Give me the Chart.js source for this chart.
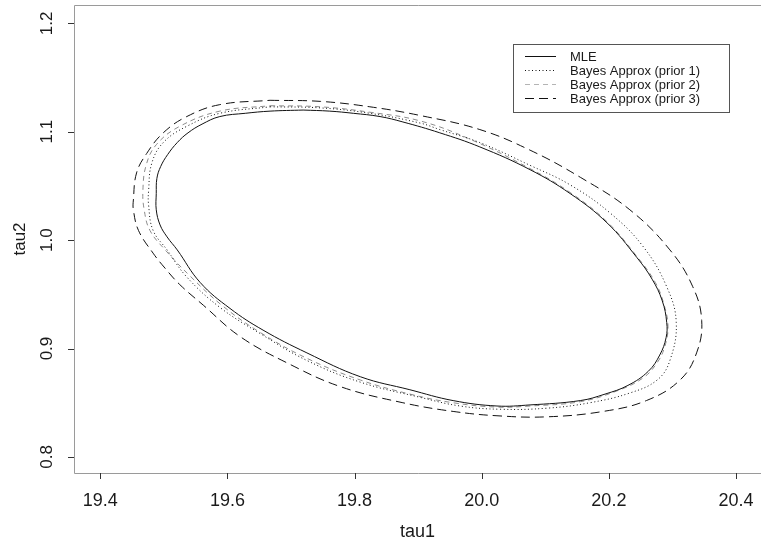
<!DOCTYPE html>
<html>
<head>
<meta charset="utf-8">
<script src="https://cdn.jsdelivr.net/npm/chart.js@4.4.0/dist/chart.umd.min.js"></script>
<style>
html, body { margin: 0; padding: 0; background: #fff; overflow: hidden; }
</style>
</head>
<body>
<canvas id="contour_view" width="761" height="546"></canvas>
<script>
// contour points, going round each curve from the top
const mle_tau1 = [19.719, 19.761, 19.798, 19.840, 19.876, 19.934, 19.997, 20.076, 20.139, 20.197, 20.244, 20.268, 20.284, 20.291, 20.290, 20.280, 20.262, 20.230, 20.194, 20.155, 20.076, 20.024, 19.955, 19.887, 19.809, 19.725, 19.656, 19.604, 19.557, 19.521, 19.505, 19.494, 19.488, 19.488, 19.489, 19.495, 19.506, 19.521, 19.538, 19.560, 19.588, 19.628, 19.667, 19.719];
const mle_tau2 = [1.120, 1.119, 1.117, 1.114, 1.109, 1.099, 1.086, 1.065, 1.043, 1.016, 0.984, 0.964, 0.944, 0.924, 0.910, 0.894, 0.879, 0.866, 0.858, 0.852, 0.848, 0.847, 0.852, 0.862, 0.874, 0.896, 0.917, 0.937, 0.961, 0.991, 1.003, 1.014, 1.028, 1.043, 1.057, 1.068, 1.079, 1.090, 1.099, 1.107, 1.114, 1.117, 1.119, 1.120];

const prior1_tau1 = [19.667, 19.746, 19.824, 19.903, 19.934, 19.997, 20.076, 20.139, 20.202, 20.254, 20.291, 20.306, 20.296, 20.276, 20.233, 20.170, 20.103, 20.029, 19.966, 19.903, 19.809, 19.725, 19.651, 19.588, 19.536, 19.505, 19.483, 19.476, 19.476, 19.481, 19.499, 19.536, 19.588, 19.667];
const prior1_tau2 = [1.123, 1.122, 1.117, 1.108, 1.102, 1.090, 1.069, 1.051, 1.025, 0.994, 0.957, 0.924, 0.889, 0.871, 0.859, 0.850, 0.845, 0.844, 0.847, 0.855, 0.869, 0.889, 0.914, 0.938, 0.966, 0.991, 1.009, 1.032, 1.046, 1.071, 1.090, 1.105, 1.117, 1.123];

const prior2_tau1 = [19.667, 19.746, 19.824, 19.903, 19.982, 20.076, 20.139, 20.197, 20.244, 20.273, 20.287, 20.293, 20.288, 20.276, 20.254, 20.213, 20.155, 20.076, 20.024, 19.955, 19.887, 19.809, 19.725, 19.651, 19.591, 19.541, 19.502, 19.478, 19.469, 19.467, 19.472, 19.488, 19.525, 19.588, 19.667];
const prior2_tau2 = [1.124, 1.123, 1.118, 1.110, 1.093, 1.066, 1.044, 1.017, 0.985, 0.961, 0.940, 0.920, 0.902, 0.887, 0.873, 0.861, 0.851, 0.847, 0.846, 0.850, 0.858, 0.871, 0.891, 0.915, 0.940, 0.967, 0.991, 1.009, 1.028, 1.046, 1.069, 1.088, 1.105, 1.119, 1.124];

const prior3_tau1 = [19.667, 19.746, 19.824, 19.903, 19.997, 20.076, 20.155, 20.233, 20.296, 20.332, 20.346, 20.338, 20.312, 20.259, 20.191, 20.102, 20.024, 19.955, 19.876, 19.777, 19.693, 19.620, 19.562, 19.525, 19.502, 19.483, 19.460, 19.452, 19.452, 19.457, 19.473, 19.499, 19.536, 19.588, 19.667];
const prior3_tau2 = [1.129, 1.128, 1.123, 1.115, 1.102, 1.083, 1.058, 1.028, 0.991, 0.957, 0.926, 0.896, 0.871, 0.852, 0.842, 0.837, 0.838, 0.842, 0.850, 0.865, 0.887, 0.911, 0.940, 0.959, 0.974, 0.988, 1.009, 1.028, 1.037, 1.062, 1.080, 1.099, 1.114, 1.125, 1.129];

const series_names = ['MLE', 'Bayes Approx (prior 1)', 'Bayes Approx (prior 2)', 'Bayes Approx (prior 3)'];

const x_ticks = [19.4, 19.6, 19.8, 20.0, 20.2, 20.4];
const x_tick_labels = ['19.4', '19.6', '19.8', '20.0', '20.2', '20.4'];
const y_ticks = [0.8, 0.9, 1.0, 1.1, 1.2];
const y_tick_labels = ['0.8', '0.9', '1.0', '1.1', '1.2'];

const x_title = 'tau1';
const y_title = 'tau2';

const font_family = '"Liberation Sans", Arial, Helvetica, sans-serif';

function to_points(xs, ys) {
    return xs.map((x, i) => ({ x: x, y: ys[i] }));
}

// R style box, ticks, rotated y labels and the legend
const axes_plugin = {
    id: 'axes_plugin',
    afterDraw(chart) {
        const ctx = chart.ctx;
        const area = chart.chartArea;
        const sx = chart.scales.x;
        const sy = chart.scales.y;

        ctx.save();

        // frame (right side falls outside the picture)
        ctx.strokeStyle = '#9a9a9a';
        ctx.lineWidth = 1;
        ctx.beginPath();
        ctx.moveTo(area.right + 2, Math.round(area.top) + 0.5);
        ctx.lineTo(Math.round(area.left) + 0.5, Math.round(area.top) + 0.5);
        ctx.lineTo(Math.round(area.left) + 0.5, Math.round(area.bottom) + 0.5);
        ctx.lineTo(area.right + 2, Math.round(area.bottom) + 0.5);
        ctx.stroke();

        // tick marks
        ctx.strokeStyle = '#333';
        ctx.beginPath();
        x_ticks.forEach(v => {
            const px = Math.round(sx.getPixelForValue(v)) + 0.5;
            ctx.moveTo(px, area.bottom);
            ctx.lineTo(px, area.bottom + 6);
        });
        y_ticks.forEach(v => {
            const py = Math.round(sy.getPixelForValue(v)) + 0.5;
            ctx.moveTo(area.left, py);
            ctx.lineTo(area.left - 6, py);
        });
        ctx.stroke();

        // tick labels
        ctx.fillStyle = '#1a1a1a';
        ctx.textAlign = 'center';
        ctx.textBaseline = 'middle';
        ctx.font = `18px ${font_family}`;
        x_ticks.forEach((v, i) => {
            ctx.fillText(x_tick_labels[i], sx.getPixelForValue(v), area.bottom + 28);
        });
        ctx.fillText(x_title, (area.left + area.right) / 2, area.bottom + 59);

        ctx.font = `17px ${font_family}`;
        y_ticks.forEach((v, i) => {
            ctx.save();
            ctx.translate(area.left - 27, sy.getPixelForValue(v));
            ctx.rotate(-Math.PI / 2);
            ctx.fillText(y_tick_labels[i], 0, 0);
            ctx.restore();
        });
        ctx.save();
        ctx.translate(area.left - 54, (area.top + area.bottom) / 2);
        ctx.rotate(-Math.PI / 2);
        ctx.fillText(y_title, 0, 0);
        ctx.restore();

        // legend
        const box = { left: 513, top: 44, right: 729, bottom: 112 };
        ctx.fillStyle = '#fff';
        ctx.fillRect(box.left, box.top, box.right - box.left, box.bottom - box.top);
        ctx.strokeStyle = '#555';
        ctx.strokeRect(box.left + 0.5, box.top + 0.5, box.right - box.left, box.bottom - box.top);

        ctx.font = `13px ${font_family}`;
        ctx.textAlign = 'left';
        chart.data.datasets.forEach((ds, i) => {
            const row_y = box.top + 12 + i * 14;
            ctx.strokeStyle = ds.legend_color || ds.borderColor;
            ctx.lineWidth = 1;
            ctx.setLineDash(ds.borderDash);
            ctx.beginPath();
            ctx.moveTo(525, row_y + 0.5);
            ctx.lineTo(556, row_y + 0.5);
            ctx.stroke();
            ctx.setLineDash([]);
            ctx.fillStyle = '#1a1a1a';
            ctx.fillText(ds.label, 570, row_y + 1);
        });

        ctx.restore();
    }
};

const contour_canvas = document.getElementById('contour_view');

const contour_handler = new Chart(contour_canvas, {
    type: 'scatter',
    data: {
        datasets: [{
            label: series_names[0],
            data: to_points(mle_tau1, mle_tau2),
            borderColor: '#111',
            borderDash: [],
        }, {
            label: series_names[1],
            data: to_points(prior1_tau1, prior1_tau2),
            borderColor: '#111',
            borderDash: [1, 2.5],
        }, {
            label: series_names[2],
            data: to_points(prior2_tau1, prior2_tau2),
            borderColor: '#8c8c8c',
            legend_color: '#b4b4b4',
            borderDash: [5, 4],
        }, {
            label: series_names[3],
            data: to_points(prior3_tau1, prior3_tau2),
            borderColor: '#111',
            borderDash: [9, 5],
        }].map(ds => Object.assign(ds, {
            showLine: true,
            fill: false,
            borderWidth: 1,
            pointRadius: 0,
            pointHoverRadius: 0,
            tension: 0.4
        }))
    },
    options: {
        responsive: false,
        animation: false,
        devicePixelRatio: 1,
        events: [],
        layout: {
            padding: { left: 74, top: 5, right: 0, bottom: 73 }
        },
        scales: {
            x: {
                type: 'linear',
                display: false,
                min: 19.3586,
                max: 20.4393
            },
            y: {
                type: 'linear',
                display: false,
                min: 0.7852,
                max: 1.2169
            }
        },
        plugins: {
            legend: { display: false },
            tooltip: { enabled: false },
            title: { display: false }
        }
    },
    plugins: [axes_plugin]
});
</script>
</body>
</html>
